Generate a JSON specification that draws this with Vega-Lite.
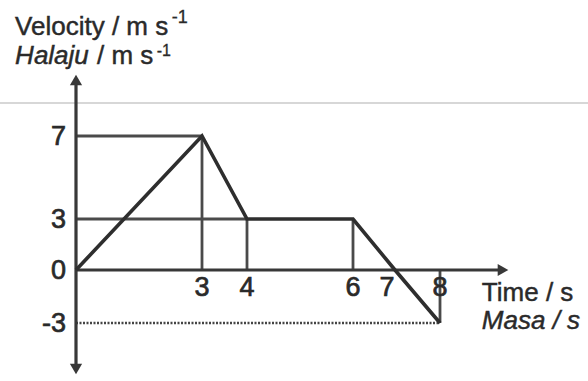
{
  "$schema": "https://vega.github.io/schema/vega-lite/v6.json",
  "width": 588,
  "height": 381,
  "autosize": {"type": "none"},
  "padding": 0,
  "background": "#ffffff",
  "config": {"view": {"stroke": null}, "font": "Liberation Sans"},
  "data": {"values": [{}]},
  "datasets": {
    "velocity": [
      {"t": 0, "v": 0}, {"t": 3, "v": 7}, {"t": 4, "v": 3},
      {"t": 6, "v": 3}, {"t": 7, "v": 0}, {"t": 8, "v": -3}
    ],
    "guides": [
      {"t": 0, "v": 7, "t2": 3, "v2": 7},
      {"t": 0, "v": 3, "t2": 4, "v2": 3},
      {"t": 3, "v": 0, "t2": 3, "v2": 7},
      {"t": 4, "v": 0, "t2": 4, "v2": 3},
      {"t": 6, "v": 0, "t2": 6, "v2": 3},
      {"t": 8, "v": 0, "t2": 8, "v2": -3}
    ],
    "dotted": [
      {"t": 0, "v": -3, "t2": 8, "v2": -3}
    ],
    "axes": [
      {"t": 0, "v": -5.6, "t2": 0, "v2": 9.7},
      {"t": 0, "v": 0, "t2": 9.4, "v2": 0}
    ],
    "xlabels": [
      {"t": 3, "label": "3"}, {"t": 4, "label": "4"}, {"t": 6, "label": "6"},
      {"t": 7, "label": "7"}, {"t": 8, "label": "8"}
    ],
    "ylabels": [
      {"v": 7, "label": "7"}, {"v": 3, "label": "3"}, {"v": 0, "label": "0"}, {"v": -3, "label": "-3"}
    ]
  },
  "layer": [
    {
      "mark": {"type": "rule", "color": "#b0b0b0", "strokeWidth": 1.2},
      "encoding": {
        "x": {"datum": -2, "type": "quantitative",
              "scale": {"domain": [0, 3, 4, 6, 7, 8], "range": [76, 202, 247, 353, 395, 440], "nice": false, "zero": false, "clamp": false},
              "axis": null},
        "x2": {"datum": 12},
        "y": {"datum": 8.59, "type": "quantitative",
              "scale": {"domain": [-3, 0, 3, 7], "range": [323, 270, 219, 136], "nice": false, "zero": false, "clamp": false},
              "axis": null}
      }
    },
    {
      "data": {"name": "guides"},
      "mark": {"type": "rule", "color": "#4a4a4a", "strokeWidth": 2.8},
      "encoding": {
        "x": {"field": "t", "type": "quantitative"},
        "x2": {"field": "t2"},
        "y": {"field": "v", "type": "quantitative"},
        "y2": {"field": "v2"}
      }
    },
    {
      "data": {"name": "dotted"},
      "mark": {"type": "rule", "color": "#444444", "strokeWidth": 2.6, "strokeDash": [2, 1.5]},
      "encoding": {
        "x": {"field": "t", "type": "quantitative"},
        "x2": {"field": "t2"},
        "y": {"field": "v", "type": "quantitative"},
        "y2": {"field": "v2"}
      }
    },
    {
      "data": {"name": "axes"},
      "mark": {"type": "rule", "color": "#383838", "strokeWidth": 3.2},
      "encoding": {
        "x": {"field": "t", "type": "quantitative"},
        "x2": {"field": "t2"},
        "y": {"field": "v", "type": "quantitative"},
        "y2": {"field": "v2"}
      }
    },
    {
      "mark": {"type": "point", "shape": "triangle-up", "filled": true, "color": "#383838", "size": 150, "opacity": 1},
      "encoding": {
        "x": {"datum": 0, "type": "quantitative"},
        "y": {"datum": 9.7, "type": "quantitative"}
      }
    },
    {
      "mark": {"type": "point", "shape": "triangle-down", "filled": true, "color": "#383838", "size": 150, "opacity": 1},
      "encoding": {
        "x": {"datum": 0, "type": "quantitative"},
        "y": {"datum": -5.6, "type": "quantitative"}
      }
    },
    {
      "mark": {"type": "point", "shape": "triangle-right", "filled": true, "color": "#383838", "size": 150, "opacity": 1},
      "encoding": {
        "x": {"datum": 9.4, "type": "quantitative"},
        "y": {"datum": 0, "type": "quantitative"}
      }
    },
    {
      "data": {"name": "velocity"},
      "mark": {"type": "line", "color": "#2e2e2e", "strokeWidth": 3.6, "strokeJoin": "miter"},
      "encoding": {
        "x": {"field": "t", "type": "quantitative"},
        "y": {"field": "v", "type": "quantitative"}
      }
    },
    {
      "data": {"name": "xlabels"},
      "transform": [{"filter": "datum.t != 7"}],
      "mark": {"type": "text", "fontSize": 27, "color": "#2a2a2a", "stroke": "#2a2a2a", "strokeWidth": 0.7, "align": "center", "baseline": "middle", "dy": 18},
      "encoding": {
        "x": {"field": "t", "type": "quantitative"},
        "y": {"datum": 0, "type": "quantitative"},
        "text": {"field": "label"}
      }
    },
    {
      "data": {"name": "xlabels"},
      "transform": [{"filter": "datum.t == 7"}],
      "mark": {"type": "text", "fontSize": 27, "color": "#2a2a2a", "stroke": "#2a2a2a", "strokeWidth": 0.7, "align": "center", "baseline": "middle", "dy": 18, "dx": -8},
      "encoding": {
        "x": {"field": "t", "type": "quantitative"},
        "y": {"datum": 0, "type": "quantitative"},
        "text": {"field": "label"}
      }
    },
    {
      "data": {"name": "ylabels"},
      "mark": {"type": "text", "fontSize": 27, "color": "#2a2a2a", "stroke": "#2a2a2a", "strokeWidth": 0.7, "align": "right", "baseline": "middle", "dx": -10, "dy": 1},
      "encoding": {
        "x": {"datum": 0, "type": "quantitative"},
        "y": {"field": "v", "type": "quantitative"},
        "text": {"field": "label"}
      }
    },
    {
      "mark": {"type": "text", "fontSize": 26, "color": "#2a2a2a", "stroke": "#2a2a2a", "strokeWidth": 0.45, "align": "left", "baseline": "alphabetic", "text": "Velocity / m s"},
      "encoding": {
        "x": {"datum": -1.45, "type": "quantitative"},
        "y": {"datum": 11.87, "type": "quantitative"}
      }
    },
    {
      "mark": {"type": "text", "fontSize": 18, "color": "#2a2a2a", "stroke": "#2a2a2a", "strokeWidth": 0.3, "align": "left", "baseline": "alphabetic", "text": "-1"},
      "encoding": {
        "x": {"datum": 2.28, "type": "quantitative"},
        "y": {"datum": 12.45, "type": "quantitative"}
      }
    },
    {
      "mark": {"type": "text", "fontSize": 26, "fontStyle": "italic", "color": "#2a2a2a", "stroke": "#2a2a2a", "strokeWidth": 0.45, "align": "left", "baseline": "alphabetic", "text": "Halaju"},
      "encoding": {
        "x": {"datum": -1.45, "type": "quantitative"},
        "y": {"datum": 10.47, "type": "quantitative"}
      }
    },
    {
      "mark": {"type": "text", "fontSize": 26, "color": "#2a2a2a", "stroke": "#2a2a2a", "strokeWidth": 0.45, "align": "left", "baseline": "alphabetic", "text": "/ m s"},
      "encoding": {
        "x": {"datum": 0.5, "type": "quantitative"},
        "y": {"datum": 10.47, "type": "quantitative"}
      }
    },
    {
      "mark": {"type": "text", "fontSize": 16, "color": "#2a2a2a", "stroke": "#2a2a2a", "strokeWidth": 0.3, "align": "left", "baseline": "alphabetic", "text": "-1"},
      "encoding": {
        "x": {"datum": 1.92, "type": "quantitative"},
        "y": {"datum": 10.86, "type": "quantitative"}
      }
    },
    {
      "mark": {"type": "text", "fontSize": 26, "color": "#2a2a2a", "stroke": "#2a2a2a", "strokeWidth": 0.45, "align": "left", "baseline": "alphabetic", "text": "Time / s"},
      "encoding": {
        "x": {"datum": 8.93, "type": "quantitative"},
        "y": {"datum": -1.75, "type": "quantitative"}
      }
    },
    {
      "mark": {"type": "text", "fontSize": 26, "fontStyle": "italic", "color": "#2a2a2a", "stroke": "#2a2a2a", "strokeWidth": 0.45, "align": "left", "baseline": "alphabetic", "text": "Masa / s"},
      "encoding": {
        "x": {"datum": 8.93, "type": "quantitative"},
        "y": {"datum": -3.34, "type": "quantitative"}
      }
    }
  ]
}
